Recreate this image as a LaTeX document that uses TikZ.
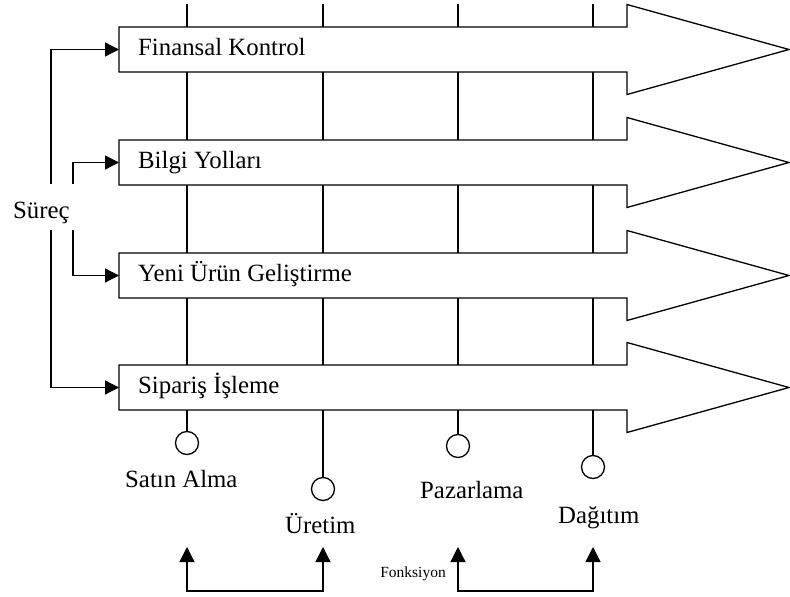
\documentclass[tikz,border=0pt]{standalone}
\usepackage{fontspec}
\setmainfont{Liberation Serif}
\usetikzlibrary{arrows.meta}
\begin{document}
\begin{tikzpicture}[x=1pt,y=-1pt,
  ln/.style={line width=1.3pt},
  proc/.style={ln,fill=white,line join=miter},
  lbl/.style={inner sep=0pt,font=\fontsize{24.8}{28}\selectfont},
  small/.style={inner sep=0pt,font=\fontsize{15.5}{18}\selectfont},
  tip/.style={-{Triangle[length=14pt,width=14pt]}},
  dtip/.style={{Triangle[length=15pt,width=15pt]}-{Triangle[length=15pt,width=15pt]}},
  fn/.style={ln,circle,draw,fill=white,minimum size=23pt,inner sep=0pt}]
\useasboundingbox (0,0) rectangle (790,597);

% function circles
\node[fn] (c1) at (187,443) {};
\node[fn] (c2) at (323,489) {};
\node[fn] (c3) at (458,446) {};
\node[fn] (c4) at (593,467) {};

% function lines, from the top down to each circle
\coordinate (t1) at (187,4);
\coordinate (t2) at (323,4);
\coordinate (t3) at (458,4);
\coordinate (t4) at (593,4);
\foreach \i in {1,...,4} \draw[ln] (t\i) -- (c\i.north);

% process arrows
\foreach \top/\nm in {27/1,140/2,253/3,365/4}{
  \draw[proc] (119,\top) -- (627,\top) -- (627,\top-22.5) -- (789,\top+22.5)
     -- (627,\top+67.5) -- (627,\top+45) -- (119,\top+45) -- cycle;
  \coordinate (b\nm) at (119,\top+22.5);
}
\node[lbl,anchor=base west] (p1) at (138,55) {Finansal Kontrol};
\node[lbl,anchor=base west] (p2) at (138,168) {Bilgi Yolları};
\node[lbl,anchor=base west] (p3) at (138,281) {Yeni Ürün Geliştirme};
\node[lbl,anchor=base west] (p4) at (138,393) {Sipariş İşleme};

% process label and its connectors
\node[lbl,anchor=base west] (surec) at (13,218) {Süreç};
\coordinate (o1) at (51,184);
\coordinate (o2) at (51,230);
\coordinate (i1) at (73,184);
\coordinate (i2) at (73,230);
\draw[ln,tip] (o1) |- (b1);
\draw[ln,tip] (o2) |- (b4);
\draw[ln,tip] (i1) |- (b2);
\draw[ln,tip] (i2) |- (b3);

% function labels
\node[lbl,anchor=base west] (f1) at (125,487) {Satın Alma};
\node[lbl,anchor=base west] (f2) at (285,533) {Üretim};
\node[lbl,anchor=base west] (f3) at (420,498) {Pazarlama};
\node[lbl,anchor=base west] (f4) at (558,523) {Dağıtım};

% function brackets
\coordinate (a1) at (187,547);
\coordinate (a2) at (323,547);
\coordinate (a3) at (458,547);
\coordinate (a4) at (593,547);
\draw[ln,dtip] (a1) -- (187,591) -- (323,591) -- (a2);
\draw[ln,dtip] (a3) -- (458,591) -- (593,591) -- (a4);
\node[small,anchor=base east] (fon) at (446,577) {Fonksiyon};
\end{tikzpicture}
\end{document}
